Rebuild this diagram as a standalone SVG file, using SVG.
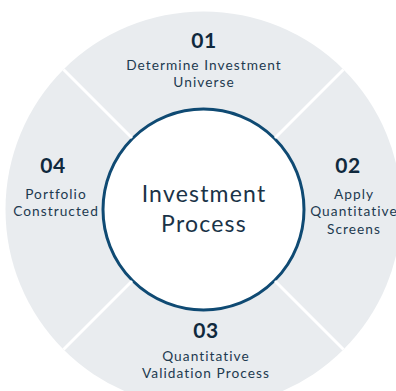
<svg xmlns="http://www.w3.org/2000/svg" width="396" height="391" viewBox="0 0 396 391">
<style>
.num{font-family:Lato,"Liberation Sans",sans-serif;font-weight:700;font-size:21px;fill:#10293d;text-anchor:middle;letter-spacing:0.5px}
.lbl{font-family:Lato,"Liberation Sans",sans-serif;font-size:13.7px;fill:#1d3a4f;text-anchor:middle;letter-spacing:1.05px}
.ctr{font-family:Lato,"Liberation Sans",sans-serif;font-size:23px;fill:#1a3347;text-anchor:middle;letter-spacing:1.2px}
.sep{stroke:#ffffff;stroke-width:3}
</style>
<rect width="396" height="391" fill="#ffffff"/>
<g id="ring">
<circle cx="203.5" cy="209.5" r="198" fill="#e9ecef"/>
</g>
<g id="center">
<circle cx="203.5" cy="209.5" r="100.5" fill="#ffffff" stroke="#0f4a73" stroke-width="3"/>
<text class="ctr" x="204" y="202">Investment</text>
<text class="ctr" x="204" y="232">Process</text>
</g>
<g id="connectors">
<line class="sep" x1="63.5" y1="69.5" x2="132" y2="138"/>
<line class="sep" x1="343.5" y1="69.5" x2="275" y2="138"/>
<line class="sep" x1="63.5" y1="349.5" x2="132" y2="281"/>
<line class="sep" x1="343.5" y1="349.5" x2="275" y2="281"/>
</g>
<g id="step01">
<text class="num" x="204" y="48">01</text>
<text class="lbl" x="204" y="70">Determine Investment</text>
<text class="lbl" x="204" y="87">Universe</text>
</g>
<g id="step02">
<text class="num" x="348" y="173">02</text>
<text class="lbl" x="354" y="199">Apply</text>
<text class="lbl" x="354" y="216">Quantitative</text>
<text class="lbl" x="354" y="234">Screens</text>
</g>
<g id="step03">
<text class="num" x="206" y="338">03</text>
<text class="lbl" x="206" y="361">Quantitative</text>
<text class="lbl" x="206" y="378">Validation Process</text>
</g>
<g id="step04">
<text class="num" x="53" y="173">04</text>
<text class="lbl" x="56" y="199">Portfolio</text>
<text class="lbl" x="56" y="216">Constructed</text>
</g>
</svg>
